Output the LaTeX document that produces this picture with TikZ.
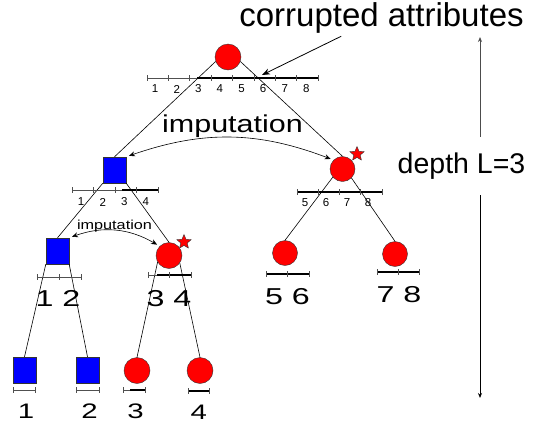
\documentclass[tikz,border=0pt]{standalone}
\usepackage{fontspec}
\setmainfont{Liberation Sans}
\newfontfamily\wideSans[FakeStretch=1.25]{Liberation Sans}
\newfontfamily\digitSans[FakeStretch=1.4]{Liberation Sans}
\usepackage{tikz}
\usetikzlibrary{arrows.meta,shapes.geometric}
\definecolor{corruptRed}{HTML}{FF0000}
\definecolor{cleanBlue}{HTML}{0000FF}
\definecolor{axisGray}{HTML}{505050}

\begin{document}
\begin{tikzpicture}[x=1pt, y=-1pt,
  redNode/.style={circle, draw=black!80, fill=corruptRed, minimum size=26pt, inner sep=0pt},
  blueNode/.style={draw=black!80, fill=cleanBlue, minimum width=23pt, minimum height=26pt, inner sep=0pt},
  flagStar/.style={star, star points=5, star point ratio=2.2, draw=black!80, fill=corruptRed, minimum size=15pt, inner sep=0pt},
  treeLine/.style={line width=0.6pt},
  thinAxis/.style={axisGray, line width=1pt},
  thickAxis/.style={line width=2.8pt},
  axisTick/.style={axisGray, line width=0.8pt},
  smallNum/.style={font=\fontsize{11.5}{12}\selectfont, inner sep=0pt},
  bigNum/.style={font=\digitSans\fontsize{23}{24}\selectfont, inner sep=0pt},
  leafNum/.style={font=\digitSans\fontsize{21}{22}\selectfont, inner sep=0pt},
  imputeArrow/.style={{Stealth[length=6pt,width=5pt]}-{Stealth[length=6pt,width=5pt]}, line width=0.6pt, shorten <=3pt, shorten >=3pt}
]
  \useasboundingbox (0,0) rectangle (538,424);

  % Tree nodes
  \node[redNode] (root) at (228,57) {};
  \node[blueNode] (n1) at (114.5,170) {};
  \node[redNode, minimum size=25pt] (n2) at (342.5,169) {};
  \node[blueNode] (n11) at (57.5,251) {};
  \node[redNode] (n12) at (169,255.5) {};
  \node[redNode, minimum size=25pt] (n21) at (285,253) {};
  \node[redNode, minimum size=25pt] (n22) at (395,254) {};
  \node[blueNode] (leaf1) at (24.5,370) {};
  \node[blueNode] (leaf2) at (87.5,370) {};
  \node[redNode] (leaf3) at (137,370.5) {};
  \node[redNode] (leaf4) at (200,370.5) {};
  \node[flagStar] (flag2) at (357,154) {};
  \node[flagStar] (flag12) at (184,242) {};

  % Tree edges
  \draw[treeLine] (root.-160) -- (n1.north);
  \draw[treeLine] (root.-20) -- (n2.north);
  \draw[treeLine] (n1.south west) -- (n11.north);
  \draw[treeLine] (n1.south east) -- (n12.north);
  \draw[treeLine] (n2.-140) -- (n21.north);
  \draw[treeLine] (n2.-45) -- (n22.north);
  \draw[treeLine] (n11.south west) -- (leaf1.north);
  \draw[treeLine] (n11.south east) -- (leaf2.north);
  \draw[treeLine] (n12.-150) -- (leaf3.north);
  \draw[treeLine] (n12.-35) -- (leaf4.north);

  % Root axis
  \draw[thinAxis] (147,78) -- (197,78);
  \draw[thickAxis] (197,78) -- (318,78);
  \foreach \i in {0,...,8}
    \draw[axisTick] ({147+21.4*\i},75) -- ({147+21.4*\i},81);
  \foreach \i in {1,...,8}
    \node[smallNum] (rootNum\i) at ({133.5+21.6*\i},89) {\i};

  % Level 1 axes
  \draw[thinAxis] (72,190) -- (122,190);
  \draw[thickAxis] (122,190) -- (158,190);
  \foreach \i in {0,...,4}
    \draw[axisTick] ({72+21.5*\i},187) -- ({72+21.5*\i},193);
  \foreach \i in {1,...,4}
    \node[smallNum] (leftNum\i) at ({59.5+21.6*\i},202) {\i};
  \draw[thickAxis] (297,192) -- (382,192);
  \foreach \i in {0,...,4}
    \draw[axisTick] ({297+21.25*\i},189) -- ({297+21.25*\i},195);
  \foreach \i in {5,...,8}
    \node[smallNum] (rightNum\i) at ({305+21*(\i-5)},203) {\i};

  % Level 2 axes
  \draw[thinAxis] (37,277) -- (81,277);
  \foreach \x in {37,59,81}
    \draw[axisTick] (\x,274) -- (\x,280);
  \node[bigNum] (num12) at (58,298) {1 2};
  \draw[thinAxis] (148,275) -- (157,275);
  \draw[thickAxis] (157,275) -- (191,275);
  \foreach \x in {148,169.5,191}
    \draw[axisTick] (\x,272) -- (\x,278);
  \node[bigNum] (num34) at (169,298.5) {3 4};
  \draw[thickAxis] (266,274) -- (309,274);
  \foreach \x in {266,287.5,309}
    \draw[axisTick] (\x,271) -- (\x,277);
  \node[bigNum] (num56) at (287.5,297) {5 6};
  \draw[thickAxis] (377,272) -- (419,272);
  \foreach \x in {377,398,419}
    \draw[axisTick] (\x,269) -- (\x,275);
  \node[bigNum] (num78) at (399,295) {7 8};

  % Leaf axes
  \draw[thinAxis] (13,390) -- (35,390);
  \draw[thinAxis] (76,390) -- (99,390);
  \draw[thinAxis] (123,390) -- (130,390);
  \draw[thickAxis] (130,390) -- (145,390);
  \draw[thickAxis] (188,391) -- (209,391);
  \foreach \x in {13,35,76,99,123,145}
    \draw[axisTick] (\x,387) -- (\x,393);
  \foreach \x in {188,209}
    \draw[axisTick] (\x,388) -- (\x,394);
  \node[leafNum] (leafNum1) at (26,410.8) {1};
  \node[leafNum] (leafNum2) at (89.5,410.8) {2};
  \node[leafNum] (leafNum3) at (135.5,410.8) {3};
  \node[leafNum] (leafNum4) at (198.7,412.5) {4};

  % Corrupted attributes
  \node[font=\fontsize{33}{36}\selectfont, inner sep=0pt] (corrupt) at (381.5,17.7) {corrupted attributes};
  \coordinate (bad6) at (262,75);
  \draw[-{Stealth[length=8pt,width=6pt]}, line width=0.8pt] ([xshift=102pt,yshift=-3pt]corrupt.south west) -- (bad6);

  % Imputation
  \node[font=\wideSans\fontsize{24.4}{26}\selectfont, inner sep=0pt] (impute1) at (232.5,126.5) {imputation};
  \draw[imputeArrow] (n1.north east) to[bend left=20] (n2.135);
  \node[font=\wideSans\fontsize{13}{14}\selectfont, inner sep=0pt] (impute2) at (114.5,226) {imputation};
  \draw[imputeArrow] (n11.north east) to[bend left=25] (n12.135);

  % Depth
  \node[font=\fontsize{28.5}{30}\selectfont, inner sep=16pt] (depth) at (461.5,166) {depth L=3};
  \coordinate (depthTop) at (480,37);
  \coordinate (depthBot) at (480,398);
  \draw[-{Stealth[length=5pt,width=4pt]}, black!70, line width=0.8pt] (depth.north -| depthTop) -- (depthTop);
  \draw[-{Stealth[length=5pt,width=4pt]}, line width=0.8pt] (depth.south -| depthBot) -- (depthBot);
\end{tikzpicture}
\end{document}
